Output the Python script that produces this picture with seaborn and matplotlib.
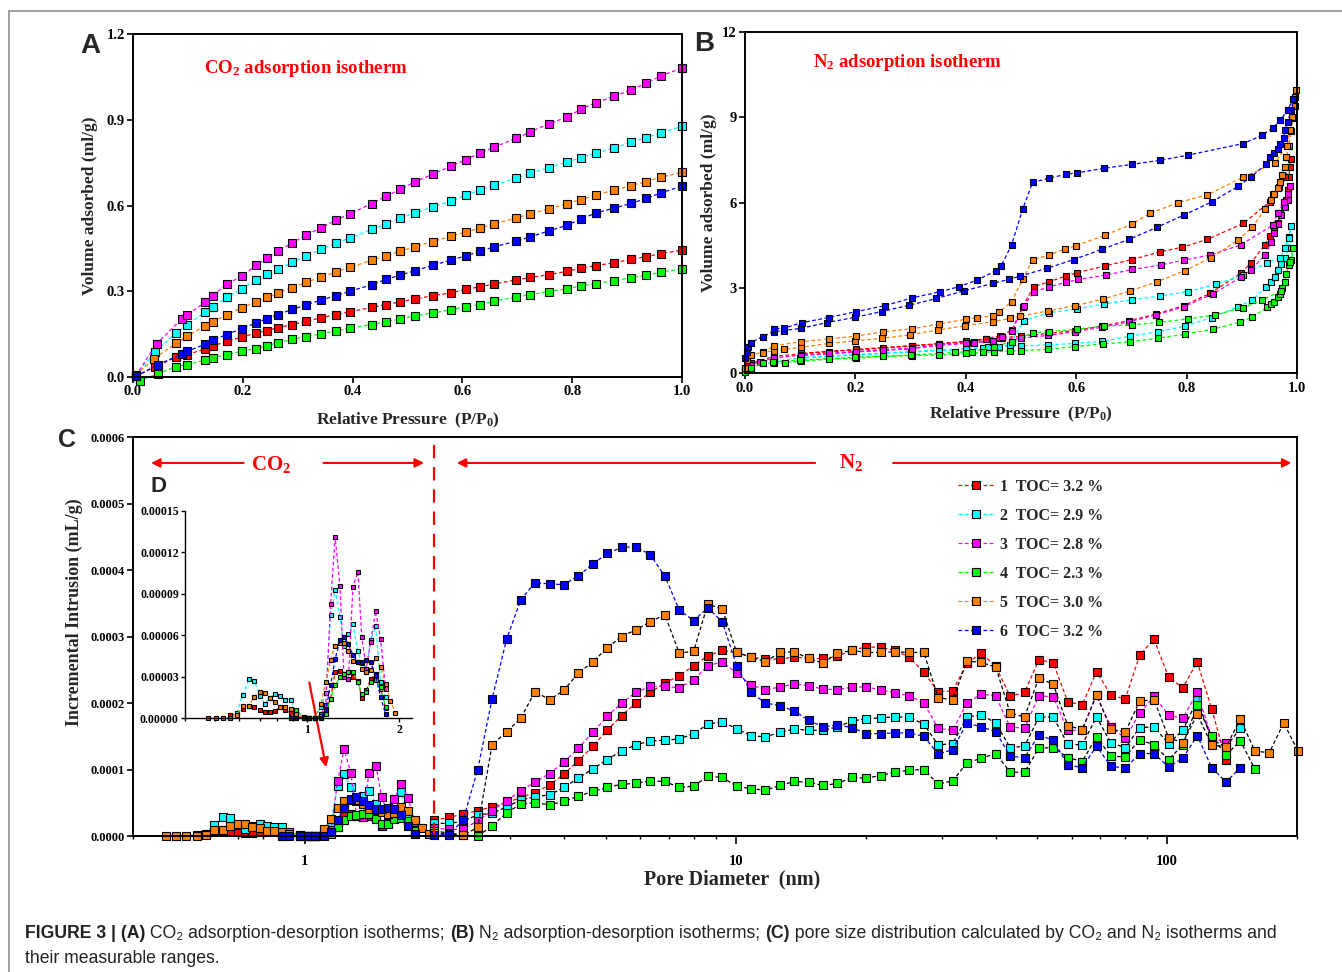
import matplotlib
matplotlib.use("Agg")
import matplotlib.pyplot as plt
import seaborn as sns
import numpy as np
from matplotlib.lines import Line2D
from matplotlib.ticker import FixedLocator, FormatStrFormatter, FuncFormatter

# ---- Panel A: CO2 isotherms (shared pressure grid after the first few points) ----
a_p = [0.099, 0.132, 0.145, 0.171, 0.198, 0.224, 0.244, 0.264, 0.290, 0.316, 0.343,
       0.369, 0.396, 0.435, 0.461, 0.487, 0.513, 0.546, 0.580, 0.606, 0.632, 0.658,
       0.698, 0.724, 0.757, 0.790, 0.816, 0.843, 0.876, 0.908, 0.935, 0.961, 1.0]
a_head_p1 = [0.005, 0.040, 0.079]; a_head_v1 = [0.003, 0.035, 0.071]
a_head_p2 = [0.005, 0.040, 0.079]; a_head_v2 = [0.005, 0.088, 0.155]
a_head_p3 = [0.005, 0.043, 0.089]; a_head_v3 = [0.005, 0.117, 0.204]
a_head_p4 = [0.012, 0.046, 0.079]; a_head_v4 = [-0.012, 0.012, 0.037]
a_head_p5 = [0.005, 0.039, 0.079]; a_head_v5 = [0.008, 0.065, 0.119]
a_head_p6 = [0.005, 0.046, 0.089]; a_head_v6 = [0.003, 0.044, 0.081]
a_v1 = [0.079, 0.099, 0.109, 0.125, 0.140, 0.154, 0.163, 0.173, 0.184, 0.195, 0.208, 0.218,
        0.229, 0.244, 0.253, 0.264, 0.273, 0.285, 0.295, 0.307, 0.316, 0.326, 0.340, 0.349,
        0.358, 0.370, 0.381, 0.390, 0.400, 0.412, 0.421, 0.432, 0.444]
a_v2 = [0.184, 0.228, 0.246, 0.279, 0.309, 0.341, 0.360, 0.377, 0.402, 0.424, 0.447, 0.468,
        0.487, 0.517, 0.537, 0.556, 0.574, 0.595, 0.616, 0.636, 0.654, 0.671, 0.696, 0.713,
        0.733, 0.752, 0.768, 0.783, 0.802, 0.821, 0.838, 0.854, 0.877]
a_v3 = [0.219, 0.263, 0.284, 0.326, 0.353, 0.391, 0.417, 0.441, 0.469, 0.498, 0.522, 0.549,
        0.572, 0.607, 0.633, 0.657, 0.682, 0.710, 0.738, 0.761, 0.783, 0.805, 0.835, 0.858,
        0.886, 0.909, 0.937, 0.960, 0.982, 1.005, 1.028, 1.053, 1.081]
a_v4 = [0.044, 0.060, 0.068, 0.079, 0.091, 0.100, 0.109, 0.121, 0.132, 0.142, 0.152, 0.161,
        0.172, 0.184, 0.194, 0.203, 0.214, 0.224, 0.236, 0.246, 0.254, 0.266, 0.280, 0.289,
        0.299, 0.309, 0.319, 0.327, 0.337, 0.348, 0.357, 0.367, 0.378]
a_v5 = [0.144, 0.180, 0.193, 0.218, 0.243, 0.263, 0.279, 0.294, 0.313, 0.332, 0.350, 0.368,
        0.384, 0.409, 0.424, 0.441, 0.455, 0.474, 0.493, 0.508, 0.521, 0.537, 0.556, 0.572,
        0.588, 0.607, 0.621, 0.637, 0.654, 0.670, 0.684, 0.699, 0.716]
a_v6 = [0.090, 0.116, 0.130, 0.149, 0.170, 0.189, 0.205, 0.219, 0.237, 0.253, 0.270, 0.284,
        0.301, 0.323, 0.342, 0.357, 0.372, 0.391, 0.410, 0.424, 0.440, 0.456, 0.475, 0.491,
        0.511, 0.531, 0.553, 0.574, 0.591, 0.608, 0.625, 0.644, 0.668]

# ---- Panel B: N2 isotherms, adsorption then desorption branch ----
b_ads_p1 = [0.001, 0.004, 0.011, 0.052, 0.101, 0.152, 0.202, 0.251, 0.302, 0.351, 0.401, 0.436,
            0.462, 0.500, 0.549, 0.598, 0.647, 0.696, 0.745, 0.795, 0.843, 0.898, 0.917, 0.942,
            0.951, 0.959, 0.965, 0.970, 0.976, 0.981, 0.984, 0.985, 0.988, 0.990]
b_ads_v1 = [0.15, 0.28, 0.35, 0.59, 0.68, 0.76, 0.82, 0.88, 0.96, 1.03, 1.11, 1.19, 1.25, 1.30,
            1.40, 1.50, 1.66, 1.85, 2.08, 2.38, 2.81, 3.51, 3.89, 4.51, 4.82, 5.06, 5.29, 5.62,
            5.91, 6.09, 6.44, 6.89, 7.26, 7.55]
b_des_p1 = [0.979, 0.968, 0.957, 0.951, 0.903, 0.838, 0.792, 0.752, 0.702, 0.653, 0.602, 0.582,
            0.551, 0.523, 0.503, 0.484, 0.462, 0.436, 0.401, 0.351, 0.302, 0.202, 0.101]
b_des_v1 = [6.91, 6.56, 6.32, 6.03, 5.27, 4.71, 4.43, 4.27, 4.00, 3.78, 3.54, 3.42, 3.22, 3.04,
            2.34, 1.52, 1.31, 1.22, 1.12, 1.04, 0.97, 0.84, 0.70]
b_ads_p2 = [0.001, 0.004, 0.011, 0.052, 0.101, 0.152, 0.202, 0.251, 0.302, 0.351, 0.401, 0.432,
            0.460, 0.500, 0.549, 0.598, 0.647, 0.698, 0.749, 0.797, 0.846, 0.894, 0.919, 0.944,
            0.953, 0.961, 0.966, 0.972, 0.978, 0.984, 0.985, 0.990]
b_ads_v2 = [0.08, 0.15, 0.23, 0.41, 0.53, 0.59, 0.64, 0.70, 0.74, 0.80, 0.84, 0.88, 0.94, 0.96,
            1.00, 1.05, 1.12, 1.31, 1.46, 1.66, 1.96, 2.34, 2.58, 3.04, 3.22, 3.40, 3.63, 3.86,
            4.07, 4.39, 4.80, 5.18]
b_des_p2 = [0.985, 0.978, 0.970, 0.946, 0.902, 0.854, 0.802, 0.752, 0.701, 0.651, 0.602, 0.551,
            0.505, 0.480, 0.440, 0.400, 0.300, 0.200, 0.100]
b_des_v2 = [4.74, 4.39, 4.07, 3.89, 3.45, 3.13, 2.87, 2.72, 2.58, 2.44, 2.26, 2.13, 1.85, 1.00,
            0.92, 0.86, 0.76, 0.66, 0.55]
b_ads_p3 = [0.001, 0.004, 0.011, 0.027, 0.052, 0.101, 0.152, 0.202, 0.251, 0.302, 0.351, 0.403,
            0.415, 0.449, 0.466, 0.500, 0.549, 0.598, 0.647, 0.696, 0.745, 0.795, 0.848, 0.898,
            0.917, 0.942, 0.953, 0.959, 0.965, 0.972, 0.978, 0.983, 0.988]
b_ads_v3 = [0.10, 0.20, 0.29, 0.41, 0.53, 0.64, 0.70, 0.76, 0.82, 0.88, 1.00, 1.08, 1.11, 1.11,
            1.23, 1.23, 1.33, 1.46, 1.62, 1.81, 2.05, 2.34, 2.79, 3.37, 3.63, 4.16, 4.60, 4.95,
            5.25, 5.55, 5.85, 6.10, 6.59]
b_des_p3 = [0.983, 0.976, 0.965, 0.956, 0.898, 0.843, 0.795, 0.754, 0.702, 0.654, 0.604, 0.582,
            0.551, 0.523, 0.505, 0.484, 0.466, 0.449, 0.415, 0.400, 0.351, 0.302, 0.202, 0.101]
b_des_v3 = [6.32, 6.03, 5.62, 5.21, 4.51, 4.16, 3.98, 3.81, 3.65, 3.45, 3.30, 3.20, 3.04, 2.85,
            2.37, 1.50, 1.28, 1.15, 1.08, 1.05, 0.98, 0.86, 0.75, 0.62]
b_ads_p4 = [0.001, 0.004, 0.011, 0.033, 0.052, 0.072, 0.101, 0.152, 0.202, 0.251, 0.302, 0.351,
            0.401, 0.432, 0.451, 0.480, 0.500, 0.549, 0.598, 0.648, 0.698, 0.749, 0.798, 0.848,
            0.897, 0.919, 0.946, 0.953, 0.959, 0.965, 0.970, 0.973, 0.978, 0.981, 0.985, 0.990,
            0.993]
b_ads_v4 = [0.05, 0.10, 0.18, 0.35, 0.35, 0.37, 0.43, 0.49, 0.53, 0.59, 0.62, 0.64, 0.70, 0.73,
            0.76, 0.78, 0.80, 0.84, 0.94, 1.03, 1.11, 1.23, 1.38, 1.55, 1.80, 1.97, 2.32, 2.42,
            2.52, 2.67, 2.79, 2.99, 3.22, 3.49, 3.81, 3.98, 4.41]
b_des_p4 = [0.987, 0.972, 0.937, 0.903, 0.852, 0.802, 0.750, 0.701, 0.651, 0.601, 0.551, 0.521,
            0.484, 0.451, 0.412, 0.380, 0.300, 0.200, 0.100, 0.050]
b_des_v4 = [3.92, 2.89, 2.58, 2.31, 2.05, 1.91, 1.79, 1.70, 1.66, 1.55, 1.46, 1.43, 1.11, 0.94,
            0.76, 0.73, 0.64, 0.56, 0.46, 0.40]
b_ads_p5 = [0.001, 0.004, 0.011, 0.032, 0.052, 0.070, 0.101, 0.152, 0.200, 0.249, 0.299, 0.349,
            0.399, 0.449, 0.480, 0.499, 0.549, 0.598, 0.648, 0.697, 0.747, 0.797, 0.845, 0.893,
            0.919, 0.942, 0.953, 0.959, 0.965, 0.970, 0.973, 0.978, 0.981, 0.985, 0.990, 0.993,
            0.996, 0.998]
b_ads_v5 = [0.20, 0.45, 0.64, 0.74, 0.78, 0.84, 0.91, 1.05, 1.14, 1.23, 1.35, 1.52, 1.67, 1.81,
            1.93, 2.01, 2.19, 2.38, 2.60, 2.89, 3.22, 3.61, 4.07, 4.68, 5.13, 5.77, 6.11, 6.32,
            6.50, 6.73, 6.99, 7.26, 7.61, 7.99, 8.51, 8.98, 9.39, 9.98]
b_des_p5 = [0.996, 0.992, 0.988, 0.982, 0.960, 0.902, 0.838, 0.785, 0.733, 0.702, 0.653, 0.599,
            0.580, 0.551, 0.521, 0.503, 0.483, 0.460, 0.449, 0.421, 0.401, 0.351, 0.302, 0.251,
            0.202, 0.152, 0.102, 0.052, 0.032]
b_des_v5 = [9.70, 9.00, 8.55, 8.00, 7.40, 6.89, 6.28, 6.00, 5.62, 5.25, 4.86, 4.48, 4.37, 4.16,
            3.98, 3.30, 2.52, 2.15, 2.01, 1.96, 1.90, 1.73, 1.56, 1.46, 1.31, 1.21, 1.11, 0.96,
            0.72]
b_ads_p6 = [0.001, 0.003, 0.006, 0.011, 0.032, 0.052, 0.070, 0.101, 0.148, 0.200, 0.248, 0.297,
            0.347, 0.397, 0.449, 0.478, 0.499, 0.547, 0.596, 0.647, 0.696, 0.746, 0.796, 0.846,
            0.894, 0.916, 0.944, 0.952, 0.959, 0.965, 0.970, 0.976, 0.979, 0.983, 0.990, 0.993]
b_ads_v6 = [0.55, 0.75, 0.92, 1.08, 1.29, 1.46, 1.50, 1.58, 1.78, 1.97, 2.17, 2.39, 2.63, 2.90,
            3.16, 3.30, 3.42, 3.69, 4.00, 4.36, 4.71, 5.13, 5.57, 6.03, 6.58, 6.89, 7.35, 7.59,
            7.75, 7.90, 8.08, 8.29, 8.55, 8.84, 9.27, 9.66]
b_des_p6 = [0.983, 0.970, 0.957, 0.937, 0.903, 0.802, 0.752, 0.702, 0.651, 0.602, 0.582, 0.551,
            0.521, 0.503, 0.483, 0.464, 0.455, 0.421, 0.387, 0.354, 0.303, 0.254, 0.202, 0.152,
            0.103, 0.070, 0.052]
b_des_v6 = [9.25, 8.90, 8.64, 8.37, 8.08, 7.67, 7.49, 7.35, 7.21, 7.05, 7.00, 6.86, 6.71, 5.76,
            4.51, 3.77, 3.61, 3.28, 3.04, 2.87, 2.65, 2.38, 2.17, 1.96, 1.78, 1.58, 1.57]

# ---- Panel C: pore size distribution (values in 1e-5 mL/g) ----
co2_d = [0.476, 0.503, 0.532, 0.562, 0.590, 0.617, 0.646, 0.673, 0.702, 0.728, 0.756, 0.786,
         0.816, 0.847, 0.884, 0.919, 0.975, 1.018, 1.058, 1.110, 1.150, 1.193, 1.234, 1.280,
         1.319, 1.364, 1.410, 1.464, 1.508, 1.559, 1.612, 1.673, 1.736, 1.803, 1.870, 1.941]
co2_first = [3, 4, 19, 14, 0, 14]   # first grid index of each series
co2_v1 = [0.22, 0.30, 0.66, 0.85, 0.77, 0.61, 0.41, 0.41, 0.53, 0.77, 0.60, 0.36, 0.17, 0.0,
          0.0, 0.0, 0.2, 0.6, 1.4, 3.33, 3.38, 3.0, 2.8, 3.0, 2.7, 1.45, 2.0, 2.85, 3.21, 2.12,
          0.70]
co2_v2 = [0.36, 1.68, 2.80, 2.65, 1.63, 1.02, 1.46, 1.75, 1.58, 1.34, 1.34, 0.5, 0.0, 0.0, 0.0,
          0.8, 1.8, 7.46, 9.29, 7.34, 5.2, 6.06, 6.81, 4.84, 4.0, 3.5, 5.64, 6.66, 2.60, 1.5]
co2_v3 = [0.3, 0.93, 8.27, 13.1, 9.53, 3.0, 2.85, 9.46, 10.6, 5.84, 3.58, 5.52, 7.76, 5.71, 2.12]
co2_v4 = [0.0, 0.58, 0.1, 0.0, 0.0, 0.17, 0.3, 1.39, 2.36, 2.96, 3.21, 3.33, 3.33, 2.60, 1.75,
          1.87, 2.60, 2.72, 2.23, 0.8]
co2_v5 = [0.0, 0.0, 0.0, 0.0, 0.22, 0.90, 0.90, 1.55, 1.87, 1.82, 1.43, 1.14, 0.82, 0.77, 0.66,
          0.29, 0.10, 0.0, 0.0, 1.02, 2.60, 4.23, 5.25, 5.40, 5.40, 4.86, 4.13, 4.03, 3.56, 3.30,
          3.48, 4.37, 3.69, 2.48, 1.26, 0.36]
co2_v6 = [0.0, 0.0, 0.0, 0.0, 0.0, 0.0, 0.58, 2.4, 4.25, 5.64, 5.88, 5.33, 4.6, 4.06, 4.06, 4.18,
          4.06, 3.09, 1.5, 0.29]

n2_d = [2.00, 2.16, 2.33, 2.52, 2.72, 2.94, 3.17, 3.42, 3.70, 3.99, 4.31, 4.66, 5.03, 5.43,
        5.86, 6.33, 6.84, 7.39, 7.98, 8.61, 9.30, 10.04, 10.84, 11.71, 12.65, 13.66, 14.75,
        15.92, 17.20, 18.57, 20.05, 21.65, 23.38, 25.25, 27.27, 29.44, 31.80, 34.34, 37.08,
        40.04, 43.23, 46.69, 50.42, 54.44, 58.79, 63.49, 68.57, 74.03, 79.94, 86.33, 93.22,
        100.7, 108.7, 117.4, 126.8, 136.9, 147.8, 159.6, 172.4, 186.2, 201.0]
n2_v1 = [2.4, 2.8, 3.3, 3.8, 4.4, 5.0, 5.8, 6.5, 7.7, 9.3, 11.3, 13.5, 15.9, 18.1, 20.0, 21.6,
         23.0, 24.1, 25.6, 27.1, 27.9, 27.6, 26.9, 26.6, 26.6, 26.9, 26.7, 26.7, 27.0, 28.0,
         28.4, 28.4, 27.9, 26.9, 24.6, 21.7, 21.8, 26.0, 27.5, 25.5, 21.0, 21.6, 26.5, 26.0,
         20.2, 19.7, 24.7, 21.2, 20.6, 27.2, 29.6, 23.9, 22.3, 26.2, 19.1, 11.4]
n2_v2 = [1.9, 1.9, 2.2, 3.2, 3.4, 4.4, 5.4, 5.9, 6.2, 7.3, 8.7, 10.1, 11.5, 12.8, 13.7, 14.3,
         14.4, 14.6, 15.4, 16.8, 17.2, 16.1, 15.1, 14.9, 15.6, 16.1, 15.9, 15.9, 16.4, 17.3,
         17.6, 17.8, 17.9, 17.9, 16.8, 13.7, 13.9, 17.9, 18.2, 17.0, 13.3, 13.5, 17.9, 17.9,
         13.8, 13.7, 17.9, 14.0, 13.3, 16.3, 16.4, 13.9, 15.9, 20.5, 14.5, 13.4, 16.2]
n2_v3 = [1.2, 1.0, 1.0, 2.3, 3.8, 5.3, 6.8, 8.1, 9.4, 11.1, 13.2, 15.6, 18.0, 20.0, 21.6, 22.5,
         22.5, 22.3, 23.5, 25.6, 26.2, 24.5, 22.7, 22.0, 22.4, 22.9, 22.6, 22.1, 22.0, 22.4,
         22.4, 22.0, 21.5, 21.1, 20.0, 16.2, 15.9, 20.0, 21.4, 21.0, 16.4, 16.2, 21.1, 20.9,
         15.9, 15.9, 21.2, 16.4, 14.7, 18.5, 21.0, 18.2, 17.7, 21.6, 14.8, 14.0]
n2_v4 = [0.8, 0.4, 0.2, 0.0, 1.5, 3.5, 4.8, 5.0, 4.7, 5.2, 6.0, 6.7, 7.3, 7.8, 7.9, 8.3, 8.2,
         7.3, 7.5, 9.0, 8.8, 7.5, 7.1, 6.9, 7.6, 8.2, 8.1, 7.6, 7.9, 8.8, 8.7, 9.1, 9.6, 9.9,
         10.0, 7.8, 8.3, 11.0, 11.7, 12.4, 9.6, 9.6, 13.2, 13.3, 11.8, 11.2, 14.9, 12.0, 11.9,
         14.5, 13.7, 11.5, 13.7, 19.7, 15.0, 12.2, 14.3, 10.1]
n2_v5 = [0.4, 0.3, 0.1, 1.3, 13.7, 15.7, 17.7, 21.7, 20.5, 21.9, 24.5, 26.2, 28.3, 30.0, 31.0,
         32.2, 33.3, 27.5, 27.8, 34.9, 34.1, 27.6, 26.9, 26.2, 27.6, 27.7, 26.7, 26.0, 27.5,
         27.9, 27.6, 27.6, 27.7, 27.6, 27.6, 20.8, 20.5, 26.3, 26.1, 25.4, 18.5, 17.9, 23.8,
         22.8, 16.6, 16.0, 21.2, 16.1, 15.6, 20.3, 20.5, 14.8, 14.0, 18.3, 13.7, 13.4, 17.6,
         12.8, 12.5, 17.0, 12.8]
n2_v6 = [0.2, 0.2, 2.4, 10.0, 20.6, 29.6, 35.5, 38.1, 37.9, 37.8, 39.1, 40.9, 42.5, 43.4, 43.5,
         42.3, 39.1, 34.0, 32.4, 34.3, 32.2, 25.6, 21.6, 20.0, 19.6, 18.8, 17.4, 16.4, 16.7,
         16.3, 15.4, 15.4, 15.5, 15.5, 15.0, 12.3, 13.0, 17.0, 16.4, 15.7, 12.0, 11.8, 15.2,
         14.4, 10.7, 10.3, 13.5, 10.5, 10.2, 12.4, 12.4, 10.4, 11.7, 15.1, 10.3, 8.1, 10.3]

labels = ["1  TOC= 3.2 %", "2  TOC= 2.9 %", "3  TOC= 2.8 %",
          "4  TOC= 2.3 %", "5  TOC= 3.0 %", "6  TOC= 3.2 %"]
colors = ["#ff0000", "#00ffff", "#ff00ff", "#00ff00", "#ff8000", "#0000ff"]
n2_line = ["#ff0000", "black", "#ff00ff", "black", "black", "#0000ff"]

sns.set_theme(style="ticks")
plt.rcParams.update({
    "font.family": ["Liberation Serif", "DejaVu Serif"],
    "font.weight": "bold",
    "axes.labelweight": "bold",
    "mathtext.fontset": "custom",
    "mathtext.rm": "Liberation Serif:bold",
    "mathtext.bf": "Liberation Serif:bold",
    "mathtext.it": "Liberation Serif:bold",
    "mathtext.default": "bf",
    "axes.linewidth": 1.4,
    "axes.edgecolor": "black",
    "xtick.color": "black", "ytick.color": "black",
    "xtick.direction": "out", "ytick.direction": "out",
    "xtick.major.size": 4, "ytick.major.size": 4,
    "xtick.major.width": 1.2, "ytick.major.width": 1.2,
    "xtick.minor.size": 2.5, "xtick.minor.width": 1.0,
})
DASH = (0, (3, 2))
SANS = ["Liberation Sans", "DejaVu Sans"]


def curve(ax, x, y, face, line, ms):
    sns.lineplot(x=list(x), y=list(y), ax=ax, sort=False, estimator=None, color=line,
                 linestyle=DASH, linewidth=0.9, marker="s", markersize=ms,
                 markerfacecolor=face, markeredgecolor="black", markeredgewidth=0.8,
                 clip_on=False)


fig = plt.figure(figsize=(13.42, 9.72), dpi=100)

# frame around the figure
fig.add_artist(Line2D([9 / 1342, 9 / 1342], [0, 1 - 11 / 972], transform=fig.transFigure,
                      color="#9a9a9a", lw=1.3))
fig.add_artist(Line2D([9 / 1342, 1], [1 - 11 / 972, 1 - 11 / 972], transform=fig.transFigure,
                      color="#9a9a9a", lw=1.3))

# ---------------- A ----------------
ax_a = fig.add_axes([0.0991, 0.612, 0.4091, 0.353])
a_heads = [(a_head_p1, a_head_v1, a_v1), (a_head_p2, a_head_v2, a_v2), (a_head_p3, a_head_v3, a_v3),
           (a_head_p4, a_head_v4, a_v4), (a_head_p5, a_head_v5, a_v5), (a_head_p6, a_head_v6, a_v6)]
for (hp, hv, tv), c in zip(a_heads, colors):
    curve(ax_a, hp + a_p, hv + tv, c, c, 5.2)
ax_a.set_xlim(0, 1.0)
ax_a.set_ylim(0, 1.2)
ax_a.xaxis.set_major_locator(FixedLocator([0, 0.2, 0.4, 0.6, 0.8, 1.0]))
ax_a.yaxis.set_major_locator(FixedLocator([0, 0.3, 0.6, 0.9, 1.2]))
ax_a.xaxis.set_major_formatter(FormatStrFormatter("%.1f"))
ax_a.yaxis.set_major_formatter(FormatStrFormatter("%.1f"))
ax_a.tick_params(labelsize=10.5, pad=2)
ax_a.set_xlabel(r"Relative Pressure  (P/P$_0$)", fontsize=12.5)
ax_a.set_ylabel("Volume adsorbed (ml/g)", fontsize=12.5)
ax_a.xaxis.set_label_coords(0.5, -0.097)
ax_a.yaxis.set_label_coords(-0.064, 0.5)
ax_a.text(0.315, 0.90, r"CO$_2$ adsorption isotherm", transform=ax_a.transAxes, color="red",
          fontsize=13.5, ha="center", va="center")

# ---------------- B ----------------
ax_b = fig.add_axes([0.5551, 0.616, 0.4113, 0.351])
b_sets = [(b_ads_p1, b_ads_v1, b_des_p1, b_des_v1), (b_ads_p2, b_ads_v2, b_des_p2, b_des_v2),
          (b_ads_p3, b_ads_v3, b_des_p3, b_des_v3), (b_ads_p4, b_ads_v4, b_des_p4, b_des_v4),
          (b_ads_p5, b_ads_v5, b_des_p5, b_des_v5), (b_ads_p6, b_ads_v6, b_des_p6, b_des_v6)]
for (ap, av, dp, dv), c in zip(b_sets, colors):
    curve(ax_b, ap + dp, av + dv, c, c, 4.8)
ax_b.set_xlim(0, 1.0)
ax_b.set_ylim(0, 12)
ax_b.xaxis.set_major_locator(FixedLocator([0, 0.2, 0.4, 0.6, 0.8, 1.0]))
ax_b.yaxis.set_major_locator(FixedLocator([0, 3, 6, 9, 12]))
ax_b.xaxis.set_major_formatter(FormatStrFormatter("%.1f"))
ax_b.yaxis.set_major_formatter(FormatStrFormatter("%d"))
ax_b.tick_params(labelsize=10.5, pad=2)
ax_b.set_xlabel(r"Relative Pressure  (P/P$_0$)", fontsize=12.5)
ax_b.set_ylabel("Volume adsorbed (ml/g)", fontsize=12.5)
ax_b.xaxis.set_label_coords(0.5, -0.093)
ax_b.yaxis.set_label_coords(-0.051, 0.5)
ax_b.text(0.295, 0.912, r"N$_2$ adsorption isotherm", transform=ax_b.transAxes, color="red",
          fontsize=13.5, ha="center", va="center")

# ---------------- C ----------------
ax_c = fig.add_axes([0.0991, 0.1399, 0.8674, 0.4105])
ax_c.set_xscale("log")
co2_sets = [co2_v1, co2_v2, co2_v3, co2_v4, co2_v5, co2_v6]
n2_sets = [n2_v1, n2_v2, n2_v3, n2_v4, n2_v5, n2_v6]
for i, c in enumerate(colors):
    s = co2_first[i]
    v = co2_sets[i]
    curve(ax_c, co2_d[s:s + len(v)], np.array(v) * 1e-5, c, c, 5.8)
for i, c in enumerate(colors):
    v = n2_sets[i]
    curve(ax_c, n2_d[:len(v)], np.array(v) * 1e-5, c, n2_line[i], 5.8)
ax_c.set_xlim(0.4, 200)
ax_c.set_ylim(0, 0.0006)
ax_c.yaxis.set_major_locator(FixedLocator([0, 1e-4, 2e-4, 3e-4, 4e-4, 5e-4, 6e-4]))
ax_c.yaxis.set_major_formatter(FormatStrFormatter("%.4f"))
ax_c.xaxis.set_major_locator(FixedLocator([1, 10, 100]))
ax_c.xaxis.set_major_formatter(FuncFormatter(lambda v, p: "%g" % v))
ax_c.xaxis.set_minor_formatter(FuncFormatter(lambda v, p: ""))
ax_c.tick_params(axis="y", labelsize=9, pad=2)
ax_c.tick_params(axis="x", which="major", labelsize=10.5, length=6, pad=8)
ax_c.set_xlabel("Pore Diameter  (nm)", fontsize=14.5)
ax_c.set_ylabel("Incremental Intrusion (mL/g)", fontsize=13)
ax_c.xaxis.set_label_coords(0.515, -0.085)
ax_c.yaxis.set_label_coords(-0.043, 0.56)

ax_c.axvline(2.0, color="red", lw=1.6, ls=(0, (6, 4)))
arrow = dict(arrowstyle="-|>", color="red", lw=1.5, mutation_scale=13)
ax_c.annotate("", xy=(0.434, 0.935), xytext=(0.733, 0.935),
              xycoords=("data", "axes fraction"), arrowprops=arrow)
ax_c.annotate("", xy=(1.92, 0.935), xytext=(1.089, 0.935),
              xycoords=("data", "axes fraction"), arrowprops=arrow)
ax_c.annotate("", xy=(2.22, 0.935), xytext=(15.5, 0.935),
              xycoords=("data", "axes fraction"), arrowprops=arrow)
ax_c.annotate("", xy=(197, 0.935), xytext=(22.8, 0.935),
              xycoords=("data", "axes fraction"), arrowprops=arrow)
ax_c.text(0.834, 0.93, r"CO$_2$", transform=ax_c.get_xaxis_transform(), color="red",
          fontsize=15, ha="center", va="center")
ax_c.text(18.5, 0.935, r"N$_2$", transform=ax_c.get_xaxis_transform(), color="red",
          fontsize=15, ha="center", va="center")
ax_c.annotate("", xy=(1.125, 0.0000993), xytext=(1.022, 0.000235),
              arrowprops=dict(arrowstyle="-|>", color="red", lw=1.6, mutation_scale=13),
              annotation_clip=False)

handles = [Line2D([], [], color=c, ls=DASH, lw=0.9, marker="s", ms=6, mfc=c,
                  mec="black", mew=0.8) for c in colors]
ax_c.legend(handles, labels, loc="upper left", bbox_to_anchor=(0.703, 0.912), frameon=False,
            fontsize=11.5, handlelength=2.3, handletextpad=0.35, labelspacing=0.82,
            borderaxespad=0)

# ---------------- inset D ----------------
ax_in = fig.add_axes([0.1379, 0.2613, 0.1692, 0.213])
ax_in.patch.set_alpha(0)
ax_in.set_xscale("log")
for i, c in enumerate(colors):
    s = co2_first[i]
    v = co2_sets[i]
    curve(ax_in, co2_d[s:s + len(v)], np.array(v) * 1e-5, c, c, 3.2)
ax_in.set_xlim(0.4, 2.2)
ax_in.set_ylim(0, 0.00015)
for sp in ["top", "right"]:
    ax_in.spines[sp].set_visible(False)
for sp in ["left", "bottom"]:
    ax_in.spines[sp].set_linewidth(1.0)
ax_in.yaxis.set_major_locator(FixedLocator([0, 3e-5, 6e-5, 9e-5, 12e-5, 15e-5]))
ax_in.yaxis.set_major_formatter(FormatStrFormatter("%.5f"))
ax_in.xaxis.set_major_locator(FixedLocator([1, 2]))
ax_in.xaxis.set_major_formatter(FuncFormatter(lambda v, p: "%g" % v))
ax_in.xaxis.set_minor_formatter(FuncFormatter(lambda v, p: ""))
ax_in.tick_params(labelsize=8.5, pad=1.5, length=3, width=1.0)
ax_in.tick_params(which="minor", length=1.8)
ax_in.set_xlabel("")
ax_in.set_ylabel("")

# panel letters
for s, px, py, fs in [("A", 90, 46, 20), ("B", 704, 44, 20), ("C", 67, 440, 18), ("D", 158, 487, 16)]:
    fig.text(px / 1342, 1 - py / 972, s, family=SANS, fontweight="bold", fontsize=fs,
             ha="center", va="center")

# caption, laid out run by run
CAP = ["Liberation Sans Narrow", "Liberation Sans", "DejaVu Sans"]
renderer = fig.canvas.get_renderer()


def put_runs(x_px, y_px, runs, size):
    x = x_px / 1342
    for txt, bold in runs:
        t = fig.text(x, 1 - y_px / 972, txt, family=CAP, fontsize=size,
                     fontweight="bold" if bold else "normal", va="baseline", ha="left",
                     color="#222222")
        x += t.get_window_extent(renderer).width / fig.bbox.width


put_runs(25, 938, [("FIGURE 3 | (A)", True), (" CO\u2082 adsorption-desorption isotherms; ", False),
                   ("(B)", True), (" N\u2082 adsorption-desorption isotherms; ", False),
                   ("(C)", True),
                   (" pore size distribution calculated by CO\u2082 and N\u2082 isotherms and", False)],
         12.7)
put_runs(25, 963, [("their measurable ranges.", False)], 12.7)

fig.savefig("out.png", dpi=100)
